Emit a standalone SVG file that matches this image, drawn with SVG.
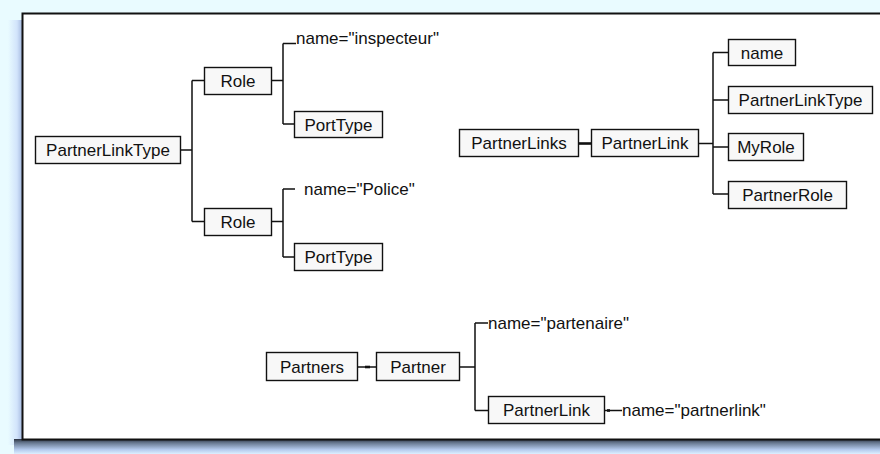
<svg xmlns="http://www.w3.org/2000/svg" width="880" height="454" viewBox="0 0 880 454">
<defs>
<linearGradient id="gBottom" x1="0" y1="0" x2="0" y2="1">
<stop offset="0" stop-color="#2b3342"/>
<stop offset="0.25" stop-color="#66778f"/>
<stop offset="0.7" stop-color="#b3c9ec"/>
<stop offset="1" stop-color="#dcefff"/>
</linearGradient>
<linearGradient id="gLeft" x1="0" y1="0" x2="1" y2="0">
<stop offset="0" stop-color="#e9fbff"/>
<stop offset="0.6" stop-color="#d2e4fb"/>
<stop offset="1" stop-color="#9fb4dc"/>
</linearGradient>
<style>
.box{fill:#f8f8f8;stroke:#111;stroke-width:1.4}
.lbl{font-family:"Liberation Sans",Arial,Helvetica,sans-serif;font-size:17px;fill:#111}
.c{text-anchor:middle}
.ln{fill:none;stroke:#111;stroke-width:1.5}
</style>
</defs>
<rect x="0" y="0" width="880" height="454" fill="#e9fbff"/>
<rect x="8" y="20" width="15" height="425" fill="url(#gLeft)"/>
<rect x="14" y="439" width="866" height="15" fill="url(#gBottom)"/>
<rect x="22.5" y="13.5" width="870" height="426" fill="#ffffff" stroke="#111" stroke-width="2"/>

<g id="connectors" class="ln">
<path d="M181 150H192M192 80.5V221.5M192 80.5H204M192 221.5H204"/>
<path d="M272 80.5H283M283 43.5V124M283 43.5H296M283 124H294"/>
<path d="M272 221.5H283M283 189V257M283 189H295M283 257H294"/>
<path d="M579 143.5H591" stroke-width="2.6"/>
<path d="M699 143.5H713M713 52.5V194M713 52.5H728M713 100H728M713 147H728M713 194H728"/>
<path d="M358 367H376"/>
<path d="M365 367H370" stroke-width="2.6"/>
<path d="M460 367H475M475 323V410.5M475 323H488M475 410.5H488"/>
<path d="M605 410.5H622"/>
<path d="M607 410.5H610" stroke-width="2.6"/>
</g>

<g id="n-partnerlinktype">
<rect class="box" x="35.5" y="136.5" width="145" height="27"/>
<text class="lbl c" x="108" y="156">PartnerLinkType</text>
</g>
<g id="n-role1">
<rect class="box" x="204.5" y="67.5" width="67" height="27"/>
<text class="lbl c" x="238" y="87">Role</text>
</g>
<g id="n-name-inspecteur">
<text class="lbl" x="296" y="44">name="inspecteur"</text>
</g>
<g id="n-porttype1">
<rect class="box" x="294.5" y="111.5" width="88" height="26"/>
<text class="lbl c" x="338.5" y="130.5">PortType</text>
</g>
<g id="n-role2">
<rect class="box" x="204.5" y="208.5" width="67" height="27"/>
<text class="lbl c" x="238" y="228">Role</text>
</g>
<g id="n-name-police">
<text class="lbl" x="304" y="195">name="Police"</text>
</g>
<g id="n-porttype2">
<rect class="box" x="294.5" y="243.5" width="88" height="27"/>
<text class="lbl c" x="338.5" y="263">PortType</text>
</g>

<g id="n-partnerlinks">
<rect class="box" x="459.5" y="129.5" width="119" height="27"/>
<text class="lbl c" x="519" y="149">PartnerLinks</text>
</g>
<g id="n-partnerlink">
<rect class="box" x="591.5" y="129.5" width="107" height="27"/>
<text class="lbl c" x="645" y="149">PartnerLink</text>
</g>
<g id="n-name">
<rect class="box" x="728.5" y="39.5" width="67" height="26"/>
<text class="lbl c" x="762" y="58.5">name</text>
</g>
<g id="n-plt">
<rect class="box" x="728.5" y="86.5" width="144" height="27"/>
<text class="lbl c" x="800.5" y="106">PartnerLinkType</text>
</g>
<g id="n-myrole">
<rect class="box" x="728.5" y="133.5" width="75" height="27"/>
<text class="lbl c" x="766" y="153">MyRole</text>
</g>
<g id="n-partnerrole">
<rect class="box" x="728.5" y="181.5" width="118" height="27"/>
<text class="lbl c" x="787.5" y="201">PartnerRole</text>
</g>

<g id="n-partners">
<rect class="box" x="266.5" y="352.5" width="91" height="28"/>
<text class="lbl c" x="312" y="372.5">Partners</text>
</g>
<g id="n-partner">
<rect class="box" x="376.5" y="352.5" width="83" height="28"/>
<text class="lbl c" x="418" y="372.5">Partner</text>
</g>
<g id="n-name-partenaire">
<text class="lbl" x="488" y="329">name="partenaire"</text>
</g>
<g id="n-partnerlink2">
<rect class="box" x="488.5" y="396.5" width="116" height="27"/>
<text class="lbl c" x="546.5" y="416">PartnerLink</text>
</g>
<g id="n-name-partnerlink">
<text class="lbl" x="622" y="416">name="partnerlink"</text>
</g>
</svg>
